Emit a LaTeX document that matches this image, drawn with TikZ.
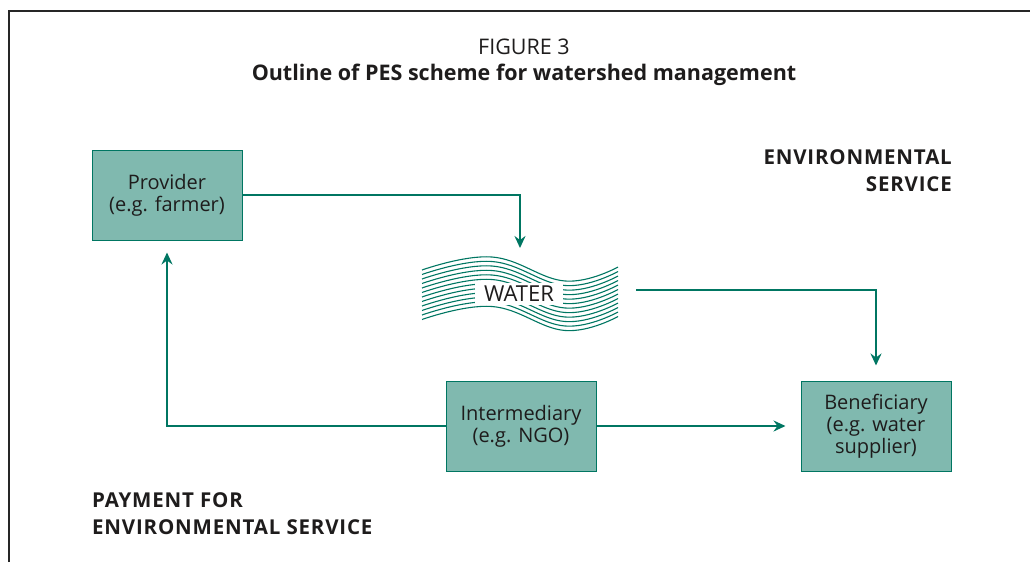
\documentclass[tikz,border=0pt]{standalone}
\usepackage{fontspec}
\setmainfont{Open Sans}
\newfontfamily\capsfont[LetterSpace=4]{Open Sans}
\usetikzlibrary{arrows.meta}
\definecolor{pesgreen}{RGB}{0,118,98}
\definecolor{pesfill}{RGB}{128,185,175}
\definecolor{pestext}{RGB}{30,28,28}

\begin{document}
\begin{tikzpicture}[x=1pt, y=-1pt,
  box/.style={rectangle, draw=pesgreen, fill=pesfill, line width=1pt, minimum width=150pt, minimum height=90pt, align=center, text=pestext, font=\fontsize{20}{22}\selectfont},
  arrow/.style={-{Stealth[length=12pt, width=11pt, inset=4pt]}, line width=2.4pt, pesgreen},
  heading/.style={text=pestext, inner sep=0pt, font=\fontsize{20.5}{27}\selectfont\capsfont\bfseries}
]
\useasboundingbox (0,0) rectangle (1030,562);
% frame
\draw[line width=1.4pt, black!85] (9,562) -- (9,11) -- (1030,11);

% title
\node[text=pestext, font=\fontsize{21.5}{24}\selectfont] (fig) at (524,47) {FIGURE 3};
\node[text=pestext, font=\fontsize{21.5}{24}\selectfont\bfseries] (title) at (524,75) {Outline of PES scheme for watershed management};

% boxes
\node[box] (provider) at (167,195) {Provider\\(e.g. farmer)};
\node[box] (intermediary) at (521,426) {Intermediary\\(e.g. NGO)};
\node[box] (beneficiary) at (876,426) {Beneficiary\\(e.g. water\\supplier)};

% water
\foreach \i in {0,...,11}
  \draw[pesgreen, line width=1.1pt] plot[smooth, tension=0.7] coordinates
    {(422,270+4.5*\i) (492,257+4.5*\i) (565,281+4.5*\i) (618,267+4.5*\i)};
\node[fill=white, text=pestext, font=\fontsize{22}{24}\selectfont, inner sep=3pt, minimum width=88pt] (water) at (519,294) {WATER};
\coordinate (watertop) at (520,248);
\coordinate (waterright) at (636,290);

% connectors
\draw[arrow] (provider.east) -| (watertop);
\draw[arrow, shorten >=15pt] (waterright) -| (beneficiary.north);
\draw[arrow, shorten >=12pt] (intermediary.west) -| (provider.south);
\draw[arrow, shorten >=15pt] (intermediary.east) -- (beneficiary.west);

% labels
\node[heading, anchor=east, align=right] (service) at (952,170.5) {ENVIRONMENTAL\\SERVICE};
\node[heading, anchor=west, align=left] (payment) at (92,513.5) {PAYMENT FOR\\ENVIRONMENTAL SERVICE};
\end{tikzpicture}
\end{document}
